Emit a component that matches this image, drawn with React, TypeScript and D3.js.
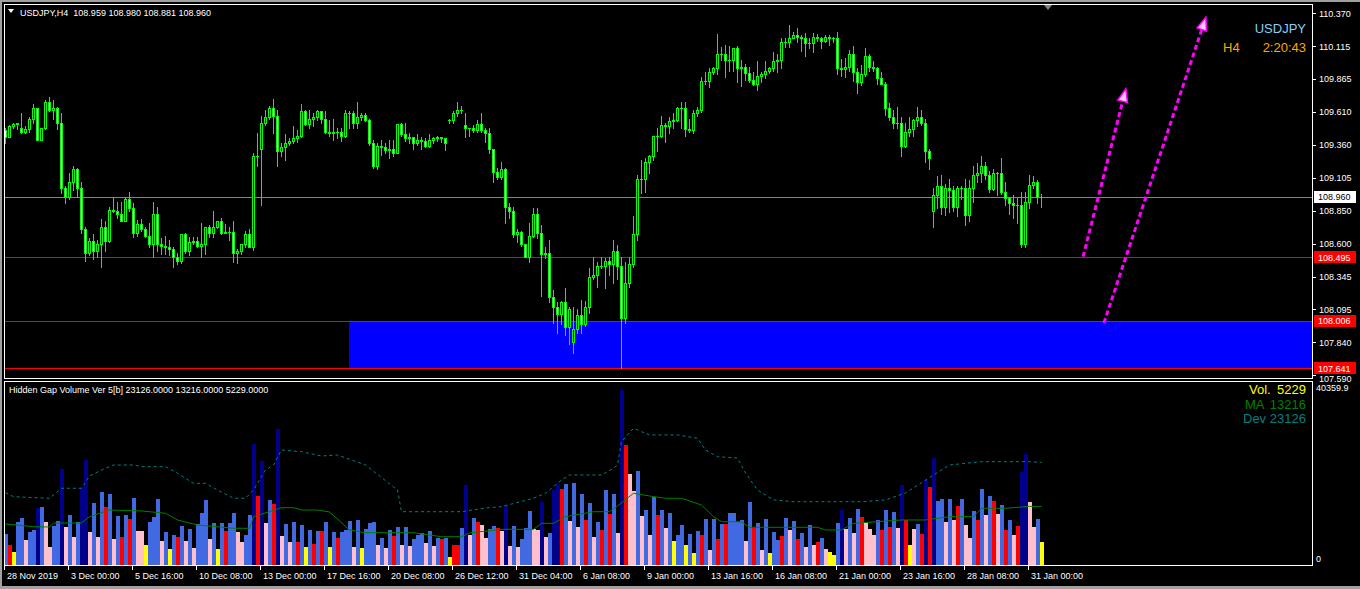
import * as d3 from 'd3'

// USDJPY H4 — price candles (open, high, low, close), one row per bar
const ohlc: number[][] = [
  [109.47,109.49,109.37,109.42],[109.42,109.51,109.42,109.50],[109.50,109.53,109.49,109.52],[109.52,109.53,109.48,109.53],[109.49,109.60,109.45,109.46],
  [109.46,109.50,109.45,109.48],[109.48,109.57,109.46,109.56],[109.56,109.67,109.53,109.64],[109.64,109.64,109.40,109.40],[109.40,109.49,109.40,109.49],
  [109.49,109.70,109.48,109.69],[109.69,109.73,109.62,109.63],[109.63,109.70,109.56,109.64],[109.64,109.65,109.48,109.53],[109.53,109.60,108.99,109.03],
  [109.03,109.04,108.91,108.96],[108.96,109.14,108.94,109.07],[109.07,109.20,109.01,109.17],[109.17,109.18,108.96,109.03],[109.03,109.07,108.68,108.71],
  [108.71,108.73,108.47,108.53],[108.53,108.64,108.51,108.62],[108.62,108.67,108.48,108.54],[108.54,108.63,108.50,108.60],[108.60,108.79,108.42,108.73],
  [108.73,108.77,108.54,108.62],[108.62,108.88,108.61,108.86],[108.86,108.96,108.84,108.85],[108.85,108.92,108.80,108.83],[108.83,108.92,108.77,108.77],
  [108.77,108.96,108.77,108.94],[108.94,109.00,108.85,108.87],[108.87,108.91,108.65,108.68],[108.68,108.78,108.66,108.75],[108.75,108.79,108.70,108.71],
  [108.71,108.73,108.65,108.66],[108.66,108.76,108.57,108.60],[108.60,108.92,108.50,108.83],[108.83,108.88,108.54,108.60],[108.60,108.64,108.52,108.58],
  [108.58,108.66,108.52,108.57],[108.57,108.63,108.51,108.56],[108.56,108.57,108.42,108.50],[108.50,108.53,108.44,108.47],[108.47,108.67,108.45,108.67],
  [108.67,108.68,108.53,108.54],[108.54,108.65,108.51,108.61],[108.61,108.65,108.60,108.62],[108.62,108.65,108.57,108.58],[108.58,108.76,108.50,108.60],
  [108.60,108.73,108.52,108.73],[108.73,108.74,108.65,108.68],[108.68,108.85,108.65,108.73],[108.73,108.77,108.72,108.77],[108.77,108.80,108.67,108.68],
  [108.68,108.75,108.68,108.69],[108.69,108.73,108.63,108.69],[108.69,108.77,108.46,108.53],[108.53,108.56,108.45,108.54],[108.54,108.60,108.52,108.60],
  [108.60,108.70,108.57,108.67],[108.67,108.71,108.57,108.57],[108.57,109.30,108.55,109.27],[109.27,109.45,109.20,109.27],[109.33,109.58,108.90,109.53],
  [109.53,109.63,109.51,109.57],[109.57,109.66,109.56,109.64],[109.64,109.71,109.45,109.58],[109.58,109.63,109.20,109.31],[109.31,109.37,109.27,109.34],
  [109.34,109.44,109.24,109.37],[109.37,109.41,109.36,109.39],[109.39,109.50,109.37,109.41],[109.41,109.47,109.38,109.43],[109.43,109.67,109.42,109.62],
  [109.62,109.63,109.51,109.52],[109.52,109.63,109.49,109.56],[109.56,109.60,109.50,109.57],[109.57,109.63,109.55,109.62],[109.62,109.62,109.53,109.56],
  [109.56,109.62,109.45,109.46],[109.46,109.55,109.43,109.45],[109.45,109.56,109.40,109.46],[109.46,109.49,109.41,109.46],[109.46,109.49,109.39,109.43],
  [109.43,109.63,109.42,109.60],[109.60,109.62,109.49,109.60],[109.60,109.62,109.49,109.53],[109.53,109.69,109.49,109.57],[109.57,109.60,109.55,109.59],
  [109.59,109.60,109.54,109.55],[109.55,109.56,109.36,109.37],[109.37,109.40,109.18,109.20],[109.20,109.37,109.17,109.35],[109.35,109.40,109.28,109.34],
  [109.34,109.37,109.30,109.32],[109.32,109.40,109.26,109.33],[109.33,109.40,109.27,109.30],[109.30,109.52,109.30,109.52],[109.52,109.53,109.43,109.44],
  [109.44,109.53,109.39,109.41],[109.41,109.45,109.37,109.42],[109.42,109.42,109.33,109.37],[109.37,109.44,109.36,109.40],[109.40,109.42,109.33,109.39],
  [109.39,109.41,109.34,109.35],[109.35,109.44,109.34,109.40],[109.40,109.42,109.37,109.41],[109.41,109.43,109.39,109.42],[109.42,109.42,109.38,109.41],
  [109.41,109.41,109.32,109.37],[109.55,109.56,109.53,109.55],[109.55,109.62,109.53,109.60],[109.60,109.69,109.58,109.63],[109.63,109.66,109.60,109.63],
  [109.51,109.60,109.42,109.49],[109.49,109.49,109.43,109.49],[109.49,109.51,109.46,109.47],[109.47,109.55,109.46,109.52],[109.52,109.60,109.46,109.47],
  [109.47,109.49,109.38,109.45],[109.45,109.49,109.30,109.33],[109.33,109.33,109.07,109.15],[109.15,109.18,109.10,109.11],[109.11,109.23,109.10,109.17],
  [109.17,109.18,108.76,108.88],[108.88,108.91,108.80,108.85],[108.85,108.88,108.65,108.67],[108.67,108.71,108.61,108.69],[108.69,108.70,108.58,108.60],
  [108.60,108.60,108.50,108.50],[108.50,108.76,108.46,108.66],[108.66,108.87,108.65,108.83],[108.83,108.87,108.64,108.68],[108.68,108.74,108.20,108.52],
  [108.52,108.57,108.49,108.53],[108.53,108.63,108.15,108.19],[108.19,108.24,107.99,108.11],[108.11,108.15,107.91,108.06],[108.06,108.16,107.98,108.15],
  [108.15,108.26,107.90,107.96],[107.96,108.11,107.83,108.10],[107.84,108.11,107.76,107.94],[107.94,108.10,107.91,108.05],[108.05,108.17,107.91,107.98],
  [107.98,108.16,107.97,108.11],[108.11,108.41,108.07,108.34],[108.34,108.50,108.33,108.36],[108.36,108.46,108.27,108.43],[108.43,108.50,108.41,108.43],
  [108.43,108.49,108.26,108.47],[108.47,108.50,108.36,108.44],[108.44,108.63,108.30,108.54],[108.54,108.59,108.33,108.43],[108.43,108.50,107.641,108.03],
  [108.03,108.46,107.99,108.30],[108.30,108.50,108.27,108.44],[108.44,108.81,108.42,108.67],[108.67,109.13,108.63,109.10],[109.10,109.24,108.99,109.10],
  [109.10,109.26,109.00,109.23],[109.23,109.28,109.14,109.27],[109.27,109.43,109.24,109.43],[109.43,109.49,109.31,109.43],[109.43,109.58,109.42,109.51],
  [109.51,109.53,109.38,109.50],[109.50,109.57,109.45,109.54],[109.54,109.60,109.49,109.55],[109.55,109.65,109.54,109.64],[109.64,109.69,109.49,109.64],
  [109.64,109.69,109.43,109.48],[109.48,109.56,109.46,109.47],[109.47,109.63,109.45,109.60],[109.60,109.65,109.58,109.63],[109.63,109.88,109.61,109.85],
  [109.85,109.92,109.83,109.85],[109.85,109.95,109.80,109.92],[109.92,109.96,109.90,109.95],[109.95,110.21,109.90,110.06],[110.06,110.11,110.01,110.06],
  [110.06,110.13,109.88,110.01],[110.01,110.12,109.93,110.01],[110.01,110.10,109.93,110.10],[110.10,110.12,109.84,109.95],[109.95,110.01,109.81,109.96],
  [109.96,109.98,109.86,109.91],[109.91,109.96,109.84,109.86],[109.86,109.92,109.82,109.83],[109.83,110.00,109.78,109.89],[109.89,109.92,109.84,109.90],
  [109.90,110.00,109.87,109.93],[109.93,109.96,109.91,109.95],[109.95,110.07,109.93,110.00],[110.00,110.06,109.92,110.01],[110.01,110.18,109.95,110.15],
  [110.15,110.18,110.11,110.15],[110.15,110.28,110.11,110.18],[110.18,110.23,110.18,110.20],[110.20,110.26,110.15,110.19],[110.19,110.20,110.08,110.18],
  [110.18,110.22,110.04,110.14],[110.14,110.18,110.10,110.14],[110.14,110.22,110.07,110.19],[110.19,110.21,110.16,110.18],[110.18,110.19,110.10,110.16],
  [110.16,110.20,110.15,110.19],[110.19,110.20,110.13,110.18],[110.18,110.19,110.15,110.18],[110.18,110.23,109.90,109.95],[109.95,110.02,109.89,109.94],
  [109.94,110.03,109.88,109.96],[109.96,110.09,109.93,110.06],[110.06,110.12,109.85,109.92],[109.92,109.95,109.76,109.84],[109.84,109.97,109.82,109.90],
  [109.90,110.10,109.89,110.04],[110.04,110.06,109.93,109.96],[109.96,110.00,109.93,109.95],[109.95,109.96,109.83,109.87],[109.87,109.92,109.83,109.83],
  [109.83,109.84,109.59,109.64],[109.64,109.68,109.55,109.57],[109.57,109.63,109.49,109.53],[109.53,109.65,109.49,109.53],[109.53,109.57,109.27,109.35],
  [109.35,109.53,109.34,109.46],[109.46,109.57,109.43,109.48],[109.48,109.56,109.43,109.55],[109.55,109.65,109.50,109.57],[109.57,109.63,109.51,109.53],
  [109.53,109.56,109.23,109.31],[109.31,109.33,109.17,109.26],[108.85,109.03,108.73,108.97],[108.97,109.12,108.87,109.04],[109.04,109.13,108.83,108.88],
  [108.88,109.06,108.82,109.03],[109.03,109.10,108.84,109.01],[109.01,109.04,108.85,108.88],[108.88,109.04,108.81,109.03],[109.03,109.04,108.94,109.03],
  [109.03,109.10,108.74,108.82],[108.82,109.09,108.77,109.03],[109.03,109.20,108.92,109.13],[109.13,109.22,109.07,109.14],[109.14,109.27,109.07,109.20],
  [109.20,109.23,109.10,109.13],[109.13,109.16,109.00,109.02],[109.02,109.17,109.01,109.14],[109.14,109.15,108.97,109.14],[109.14,109.26,108.98,109.00],
  [109.00,109.07,108.90,108.95],[108.95,108.96,108.83,108.91],[108.91,108.97,108.80,108.90],[108.90,108.95,108.76,108.90],[108.90,109.00,108.57,108.60],
  [108.60,109.00,108.57,108.92],[108.92,109.13,108.87,109.05],[109.05,109.12,109.03,109.07],[109.07,109.09,108.91,108.96],[108.959,108.980,108.881,108.960],
]

// Hidden Gap Volume histogram, one value per bar
const volumes = [
  6990,4510,2930,9700,10670,5640,7440,7890,12920,13080,
  9700,4060,8860,9920,21650,8570,11280,6310,9700,17590,
  23680,7440,13980,6310,16460,13080,16010,5860,11050,6310,
  11280,10370,15110,7670,7670,4510,9700,10820,14880,5410,
  7440,3610,6770,6310,8790,5410,8120,3830,9250,11730,
  14660,5860,9470,3610,9470,7670,9470,11730,7440,5190,
  6770,11280,27290,15560,23450,9470,14660,13760,30670,6540,
  9250,5190,9700,5190,9020,4060,7890,4740,7670,7670,
  9700,4060,7440,6090,7440,7890,9920,4060,10150,3830,
  8120,9470,9700,4510,6090,3830,7890,6540,8570,4510,
  8570,4280,5860,6770,7220,4960,7670,4280,6090,5860,
  6090,1800,4510,4510,8340,18040,6770,10600,9700,9020,
  6090,8120,8790,8340,7670,13530,4280,8790,4060,5860,
  8340,12180,8120,7890,14210,6310,7220,16910,18270,17140,
  18270,9920,18490,8570,16010,10150,13980,6310,9700,7890,
  16910,11500,16010,7220,39460,27060,20520,16690,21200,11050,
  12400,6770,15330,11280,12400,8340,11730,5410,6770,9020,
  4510,6990,2710,7670,6770,10370,3380,10370,5860,9250,
  9250,11730,11730,9700,10150,5410,14210,8340,9470,3380,
  10370,2710,7440,5640,6540,10600,7890,9920,5860,7220,
  4060,9020,4510,5190,6090,3610,2930,2260,9470,12400,
  8120,10600,7220,12630,10820,9470,8120,6770,10150,7890,
  12400,8570,11950,8340,18040,10150,4510,8120,9250,6990,
  19170,17590,24130,14430,14880,9700,14880,10150,13300,14880,
  9020,6090,12180,10150,17140,11280,15560,14430,11500,13530,
  7890,10150,6770,8790,20970,25030,14210,8570,10370,5229,
]

// volume class per bar: B normal, N high, R bear gap, P weak, Y low
const volTypes =
  'BRYBBPBBNB' + 'PPBBNPBPBN' + 'NPBPBRBPBR' + 'BRBPPYBBBP' + 'BYBRBPBPBB' +
  'BPBYBRBBPP' + 'BBNRNPBRNP' + 'BPBRBYBRBR' + 'BYBRBBBPBY' + 'BBBPBPBRBP' +
  'BPBBBPBPBR' + 'BYRRBNPBRP' + 'PBBRPNPBPB' + 'BBPPNPBNNR' + 'BPBPBRBPBR' +
  'BRBPNRPPBP' + 'BPBRBPBYBB' + 'YBYBRBPBRB' + 'RBBBBPBRBP' + 'BYBBRBPBRB' +
  'PBPRBPYYBN' + 'PBPBRPPPBR' + 'BRBPNRYPBR' + 'NRNBBPBPRB' + 'PPBRBPBRPB' +
  'RBPRNNPPBY'

// indicator lines: [bar, value]
const maPoints: [number, number][] = [
  [0,9245],[7,8640],[11,8570],[12,9470],[19,9470],[21,10890],[26,12400],[34,12180],[40,11660],[43,10150],
  [48,9020],[57,8280],[61,8280],[62,10890],[69,12920],[72,12920],[74,12400],[78,12400],[81,11950],[86,7890],
  [90,7280],[102,7280],[109,6380],[114,6380],[116,7220],[124,8050],[132,8050],[134,9400],[137,9400],[140,10890],
  [147,12020],[151,12020],[153,13300],[157,16170],[161,15560],[165,15040],[169,15040],[174,13530],[177,10890],[179,9760],
  [184,9760],[186,8500],[203,8500],[205,7890],[209,7890],[212,9400],[224,10150],[230,10150],[236,10890],[242,10890],
  [244,12790],[250,12790],[256,13216],[259,13216],
]
const devPoints: [number, number][] = [
  [0,16300],[2,15400],[11,15040],[14,17300],[19,17300],[21,20070],[24,21420],[27,22550],[32,22550],[34,22170],
  [40,22170],[43,20680],[47,18420],[50,18420],[53,16910],[57,15040],[60,15040],[62,16910],[65,21420],[67,22550],
  [69,25930],[74,25550],[79,24580],[83,24800],[90,22550],[98,16910],[99,12020],[114,12020],[120,12850],[124,13150],
  [132,15040],[135,16170],[139,19170],[141,20300],[149,20300],[152,21810],[153,22550],[154,27800],[157,30830],[159,30060],
  [161,29320],[168,29320],[173,28570],[175,25930],[178,24420],[183,24130],[185,20750],[188,16910],[192,14660],[197,14270],
  [214,14270],[220,14660],[225,16240],[236,22550],[244,23290],[256,23290],[259,23126],
]

const timeLabels = [
  '28 Nov 2019','3 Dec 00:00','5 Dec 16:00','10 Dec 08:00','13 Dec 00:00','17 Dec 16:00',
  '20 Dec 08:00','26 Dec 12:00','31 Dec 04:00','6 Jan 08:00','9 Jan 00:00','13 Jan 16:00',
  '16 Jan 08:00','21 Jan 00:00','23 Jan 16:00','28 Jan 08:00','31 Jan 00:00',
]
const priceTicks = [110.370,110.115,109.865,109.610,109.360,109.105,108.850,108.600,108.345,108.095,107.840,107.590]

const bidPrice = 108.960
const levelLines = [108.495, 108.006, 107.641]
const zoneStartBar = 86
// projected arrows: [bar0, price0, bar1, price1]
const arrows = [[269.4,108.50,280.1,109.79],[274.6,107.99,300.1,110.34]]
const lastQuote = ['108.959','108.980','108.881','108.960']
const volMax = 40359.9
const lastVol = 5229, lastMa = 13216, lastDev = 23126

const GREEN = '#00ff00'
const VOL_COLORS: Record<string, string> = { B:'#4169e1', N:'#00008b', R:'#ff0000', P:'#ffc0cb', Y:'#ffff00' }
const FONT = "'Liberation Sans', Arial, sans-serif"

export default function App(): JSX.Element {
  const x = d3.scaleLinear().domain([0, ohlc.length - 1]).range([5.5, 5.5 + 4 * (ohlc.length - 1)])
  const y = d3.scaleLinear().domain([107.590, 110.370]).range([375, 13.3])
  const yv = d3.scaleLinear().domain([0, volMax]).range([565, 386])

  const lineGen = d3.line<[number, number]>().x(d => x(d[0])).y(d => yv(d[1]))
  const py = (p: number) => Math.round(y(p)) + 0.5

  // indicator readout in the top-right of the volume pane
  const readout = [
    { label: 'Vol.', lx: 1249, value: lastVol, color: '#ffff00', by: 394 },
    { label: 'MA', lx: 1245, value: lastMa, color: '#008000', by: 408.5 },
    { label: 'Dev', lx: 1243, value: lastDev, color: '#008080', by: 423 },
  ]

  return (
    <svg width={1360} height={589} style={{position:'fixed', left:0, top:0, display:'block'}} fontFamily={FONT}>
      <defs>
        <clipPath id="mainClip"><rect x={5} y={5} width={1307} height={373} /></clipPath>
        <clipPath id="volClip"><rect x={5} y={382} width={1307} height={183} /></clipPath>
      </defs>
      <rect width={1360} height={589} fill="#000" />
      <rect width={1360} height={2} fill="#a0a0a0" />
      <rect width={2} height={589} fill="#a0a0a0" />
      <rect y={586} width={1360} height={3} fill="#a0a0a0" />

      {/* main price panel */}
      <g clipPath="url(#mainClip)" shapeRendering="crispEdges">
        <rect x={x(zoneStartBar) - 0.5} y={py(levelLines[1]) - 0.5} width={1312 - x(zoneStartBar)}
          height={py(levelLines[2]) - py(levelLines[1])} fill="#0000ff" />
        <line x1={5} x2={1312} y1={py(bidPrice)} y2={py(bidPrice)} stroke="#778899" />
        {levelLines.map(p => <line key={p} x1={5} x2={1312} y1={py(p)} y2={py(p)} stroke="#ff0000" />)}
        {ohlc.map(([o, h, l, c], i) => {
          const cx = x(i)
          const yt = py(Math.max(o, c)), yb = py(Math.min(o, c))
          const hi = Math.round(y(Math.max(h, o, c))), lo = Math.round(y(Math.min(l, o, c))) + 1
          return (
            <g key={i}>
              <line x1={cx} x2={cx} y1={hi} y2={lo} stroke={GREEN} />
              {yb - yt < 1
                ? <line x1={cx - 1.5} x2={cx + 1.5} y1={yt} y2={yt} stroke={GREEN} />
                : <rect x={cx - 1} y={yt} width={2} height={yb - yt} fill={c < o ? '#ffffff' : '#000000'} stroke={GREEN} />}
            </g>
          )
        })}
      </g>
      <g clipPath="url(#mainClip)">
        {arrows.map(([b0, p0, b1, p1], k) => {
          const x0 = x(b0), y0 = y(p0), x1 = x(b1), y1 = y(p1)
          const len = Math.hypot(x1 - x0, y1 - y0)
          const ux = (x1 - x0) / len, uy = (y1 - y0) / len
          const bx = x1 - ux * 13, by = y1 - uy * 13
          const pts = [[x1, y1], [bx - uy * 5, by + ux * 5], [bx + uy * 5, by - ux * 5]]
          return (
            <g key={k}>
              <line x1={x0} y1={y0} x2={bx} y2={by} stroke="#ff00ff" strokeWidth={3} strokeDasharray="5 3" />
              <polygon points={pts.map(p => p.join(',')).join(' ')} fill="#ffc8ff" stroke="#ff00ff" strokeWidth={1.5} />
            </g>
          )
        })}
      </g>
      <rect x={4.5} y={4.5} width={1308} height={374} fill="none" stroke="#fff" shapeRendering="crispEdges" />
      <polygon points="1044,5 1052,5 1048,10" fill="#808080" />

      {/* header texts */}
      <polygon points="8,9 14,9 11,13" fill="#fff" />
      <text x={20} y={15.5} fontSize={9} fill="#fff" xmlSpace="preserve">{'USDJPY,H4  ' + lastQuote.join(' ')}</text>
      <text x={1306} y={33} fontSize={13} fill="#87cefa" textAnchor="end">USDJPY</text>
      <text x={1223} y={52} fontSize={13} fill="#ffa500">H4</text>
      <text x={1306} y={52} fontSize={13} fill="#ffa500" textAnchor="end">2:20:43</text>

      {/* price axis */}
      <g fontSize={9} fill="#fff">
        {priceTicks.map((p, k) => (
          <g key={p}>
            <line x1={1312} x2={1316} y1={py(p)} y2={py(p)} stroke="#fff" shapeRendering="crispEdges" />
            <text x={1319} y={k === priceTicks.length - 1 ? 382 : y(p) + 3.3}>{p.toFixed(3)}</text>
          </g>
        ))}
        {[bidPrice, ...levelLines].map((p, k) => (
          <g key={'b' + p}>
            <rect x={1314} y={Math.round(y(p)) - 6} width={42} height={12} fill={k === 0 ? '#ffffff' : '#ff0000'} />
            <text x={1318} y={y(p) + 3.3} fill={k === 0 ? '#000' : '#fff'}>{p.toFixed(3)}</text>
          </g>
        ))}
      </g>

      {/* volume panel */}
      <g clipPath="url(#volClip)">
        <g shapeRendering="crispEdges">
          {volumes.map((v, i) => {
            const top = Math.round(yv(v))
            return <rect key={i} x={x(i) - 1.5} y={top} width={4} height={565 - top} fill={VOL_COLORS[volTypes[i]]} />
          })}
        </g>
        <path d={lineGen(maPoints) ?? ''} fill="none" stroke="#008000" strokeWidth={1} />
        <path d={lineGen(devPoints) ?? ''} fill="none" stroke="#008080" strokeWidth={1} strokeDasharray="3 3" />
      </g>
      <rect x={4.5} y={381.5} width={1308} height={184} fill="none" stroke="#fff" shapeRendering="crispEdges" />
      <text x={9} y={393} fontSize={9} fill="#fff">
        {`Hidden Gap Volume Ver 5[b] ${lastDev.toFixed(4)} ${lastMa.toFixed(4)} ${lastVol.toFixed(4)}`}
      </text>
      <g fontSize={13}>
        {readout.map(r => (
          <g key={r.label} fill={r.color}>
            <text x={r.lx} y={r.by}>{r.label}</text>
            <text x={1306} y={r.by} textAnchor="end">{r.value}</text>
          </g>
        ))}
      </g>
      <g fontSize={9} fill="#fff">
        <text x={1316} y={391}>{volMax.toFixed(1)}</text>
        <text x={1316} y={562}>0</text>
      </g>

      {/* time axis */}
      <g fontSize={9} fill="#fff">
        {timeLabels.map((t, k) => {
          const tx = Math.floor(x(k * 16)) - 0.5
          return (
            <g key={t}>
              <line x1={tx} x2={tx} y1={566} y2={570} stroke="#fff" shapeRendering="crispEdges" />
              <text x={tx + 2.5} y={579}>{t}</text>
            </g>
          )
        })}
      </g>
    </svg>
  )
}
